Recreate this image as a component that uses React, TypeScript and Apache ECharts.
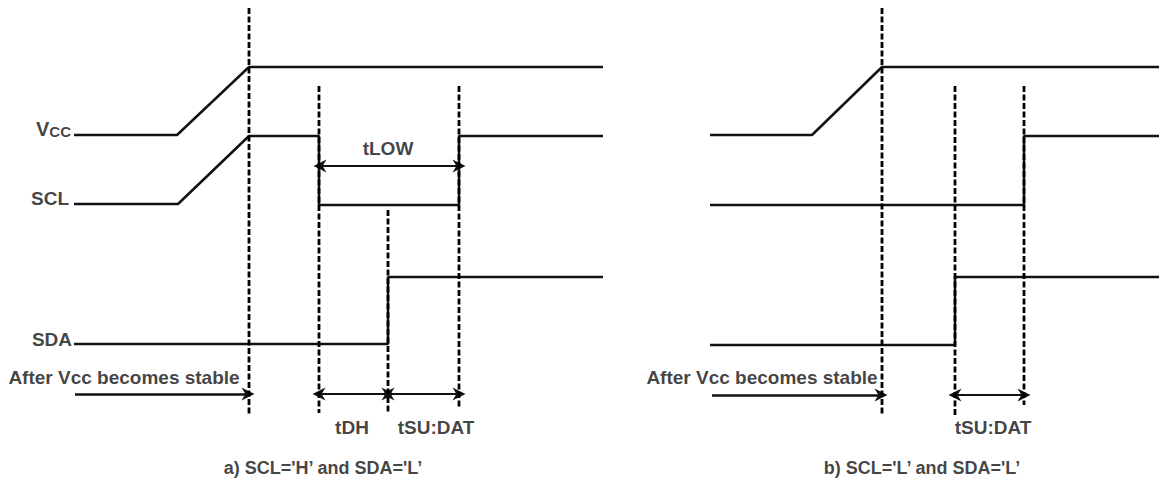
import React, { useEffect, useRef } from "react";
import * as echarts from "echarts";

// Diagram units: x = time position, y = signal level position (inverted axis)
const vccA: number[][] = [[74, 135], [177, 135], [249, 67], [603, 67]];
const sclA: number[][] = [[74, 204], [178, 204], [249, 136], [319, 136], [319, 205], [459, 205], [459, 136], [603, 136]];
const sdaA: number[][] = [[74, 344], [388, 344], [388, 277], [603, 277]];
const vccB: number[][] = [[710, 135], [812, 135], [882, 67], [1159, 67]];
const sclB: number[][] = [[710, 205], [1024, 205], [1024, 136], [1159, 136]];
const sdaB: number[][] = [[710, 345], [955, 345], [955, 277], [1159, 277]];

// dashed markers: [time, top, bottom]
const markers: number[][] = [
  [249, 8, 415], [319, 86, 413], [388, 210, 413], [459, 86, 407],
  [882, 8, 415], [955, 86, 415], [1024, 86, 405],
];

// double-headed interval arrows: [from, to, level]
const intervals: number[][] = [
  [320, 459, 166], [319, 388, 394], [388, 459, 394], [955, 1024, 395],
];
// single-headed arrows: [from, to, level]
const pointers: number[][] = [[75, 248, 394], [712, 881, 395]];

// text annotations: [x, y, text, align, fontSize]
const annotations: (string | number)[][] = [
  [71, 128, "VCC", "right", 19],
  [69, 198, "SCL", "right", 19],
  [72, 339, "SDA", "right", 19],
  [388, 148, "tLOW", "center", 19],
  [124, 377, "After Vcc becomes stable", "center", 19],
  [762, 377, "After Vcc becomes stable", "center", 19],
  [352, 427, "tDH", "center", 19],
  [436, 427, "tSU:DAT", "center", 19],
  [993, 427, "tSU:DAT", "center", 19],
  [323, 468, "a) SCL='H\u2019 and SDA='L\u2019", "center", 18],
  [922, 468, "b) SCL='L\u2019 and SDA='L\u2019", "center", 18],
];

const FONT = "'Liberation Sans', Arial, sans-serif";
const INK = "#111";
const ARROW = "path://M0,10 L5,0 L10,10 L5,7 Z";

export default function App() {
  const ref = useRef<HTMLDivElement>(null);
  useEffect(() => {
    if (!ref.current) return;
    const chart = echarts.init(ref.current, null, { renderer: "svg" });
    const wave = (data: number[][]) => ({
      type: "line",
      data,
      showSymbol: false,
      symbol: "none",
      silent: true,
      lineStyle: { color: INK, width: 2.5 },
    });
    const dash = ([x, y1, y2]: number[]) => ({
      type: "line",
      data: [[x, y1], [x, y2]],
      showSymbol: false,
      symbol: "none",
      silent: true,
      lineStyle: { color: "#000", width: 2.8, type: [6, 2.5] },
    });
    chart.setOption({
      animation: false,
      backgroundColor: "#fff",
      grid: { left: 0, right: 0, top: 0, bottom: 0 },
      xAxis: { type: "value", min: 0, max: 1159, show: false },
      yAxis: { type: "value", min: 0, max: 490, inverse: true, show: false },
      series: [
        wave(vccA), wave(sclA), wave(sdaA), wave(vccB), wave(sclB), wave(sdaB),
        ...markers.map(dash),
        {
          type: "lines",
          coordinateSystem: "cartesian2d",
          silent: true,
          symbol: [ARROW, ARROW],
          symbolSize: 13,
          lineStyle: { color: INK, width: 2.2, opacity: 1 },
          itemStyle: { color: INK },
          data: intervals.map(([a, b, y]) => ({ coords: [[a, y], [b, y]] })),
        },
        {
          type: "lines",
          coordinateSystem: "cartesian2d",
          silent: true,
          symbol: ["none", ARROW],
          symbolSize: 13,
          lineStyle: { color: INK, width: 2.6, opacity: 1 },
          itemStyle: { color: INK },
          data: pointers.map(([a, b, y]) => ({ coords: [[a, y], [b, y]] })),
        },
        {
          type: "scatter",
          silent: true,
          symbolSize: 0,
          data: annotations.map(([x, y, t, al, fs]) => ({
            value: [x, y],
            label: {
              show: true,
              position: "inside",
              align: al,
              verticalAlign: "middle",
              color: INK,
              fontFamily: FONT,
              fontWeight: "bold",
              fontSize: fs,
              formatter: t === "VCC" ? "{v|V}{c|CC}" : String(t),
              rich: t === "VCC" ? {
                v: { fontSize: 20, fontFamily: FONT, fontWeight: "bold", color: INK, verticalAlign: "bottom", lineHeight: 22 },
                c: { fontSize: 15, fontFamily: FONT, fontWeight: "bold", color: INK, verticalAlign: "bottom", lineHeight: 22 },
              } : undefined,
            },
          })),
        },
      ],
    });
    return () => chart.dispose();
  }, []);
  return (
    <div
      ref={ref}
      style={{ position: "fixed", left: 0, top: 0, width: 1159, height: 490, background: "#fff" }}
    />
  );
}
